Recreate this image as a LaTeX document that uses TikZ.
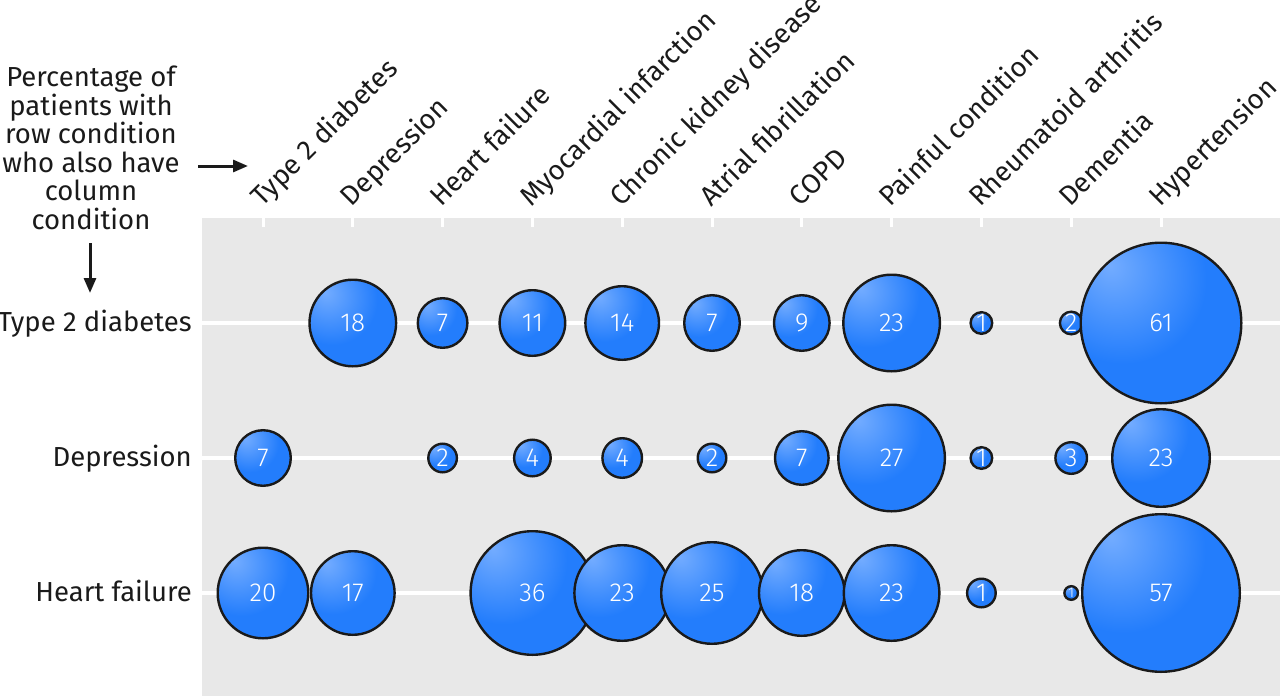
\documentclass[tikz,border=0pt]{standalone}
\usepackage{fontspec}
\setmainfont{Fira Sans}
\newfontfamily\numfont{Fira Sans Light}
\usetikzlibrary{arrows.meta}
\definecolor{panel}{HTML}{E8E8E8}
\definecolor{hl}{RGB}{115,172,255}
\definecolor{bmain}{RGB}{35,125,252}
\definecolor{bdark}{RGB}{24,108,238}
\definecolor{edge}{HTML}{1A1A1A}
\definecolor{ink}{HTML}{1A1A1A}
\pgfdeclareradialshading{ballblue}{\pgfpoint{-16bp}{18bp}}{color(0bp)=(hl); color(26bp)=(bmain); color(58bp)=(bmain); color(80bp)=(bdark); color(100bp)=(bdark)}
\begin{document}
\begin{tikzpicture}[x=1pt,y=-1pt,
  lbl/.style={font=\fontsize{27.5}{28.5}\selectfont, text=ink, inner sep=0pt},
  collbl/.style={lbl, rotate=45, anchor=base west},
  rowlbl/.style={lbl, anchor=base east},
  ball/.style={circle, draw=edge, line width=2.4pt, shading=ballblue, inner sep=0pt, text=white, font=\numfont\fontsize{26}{26}\selectfont},
  gridline/.style={white, line width=4pt},
  tickmark/.style={white, line width=3pt},
  pointer/.style={ink, line width=3pt, -{Triangle[length=15pt,width=12pt]}}
]
\useasboundingbox (0,0) rectangle (1280,696);
\fill[panel] (202,218) rectangle (1280,696);
% column ticks
\foreach \i in {1,...,11} \draw[tickmark] ({263+89.8*(\i-1)},218) -- ++(0,9);
% row grid lines
\foreach \y in {323,458,593} \draw[gridline] (202,\y) -- (1280,\y);
% intro text and pointers
\node[lbl, align=center, anchor=south] (intro) at (91,230) {Percentage of\\patients with\\row condition\\who also have\\column\\condition};
\coordinate (ra0) at (198,166);
\coordinate (ra1) at (248,166);
\draw[pointer] (ra0) -- (ra1);
\coordinate (da0) at (90,243);
\coordinate (da1) at (90,293);
\draw[pointer] (da0) -- (da1);
% column labels
\foreach \i/\t in {1/Type 2 diabetes,2/Depression,3/Heart failure,4/Myocardial infarction,5/Chronic kidney disease,6/Atrial fibrillation,7/COPD,8/Painful condition,9/Rheumatoid arthritis,10/Dementia,11/Hypertension}
  \node[collbl] (col\i) at ({263+89.8*(\i-1)-1},208) {\t};
% row labels
\node[rowlbl] (row1) at (192,331) {Type 2 diabetes};
\node[rowlbl] (row2) at (192,466) {Depression};
\node[rowlbl] (row3) at (192,601) {Heart failure};
% row 1
\foreach \c/\v/\s in {2/18/44.5,3/7/26,4/11/34,5/14/38,6/7/29,7/9/29,8/23/49.5,9/1/12,10/2/12.5,11/61/81.5}
  \node[ball, minimum size={2*\s-2.4}] (a\c) at ({263+89.8*(\c-1)},323) {\v};
% row 2
\foreach \c/\v/\s in {1/7/29,3/2/15.5,4/4/19.5,5/4/21,6/2/15.5,7/7/28,8/27/54.5,9/1/12,10/3/17,11/23/50}
  \node[ball, minimum size={2*\s-2.4}] (b\c) at ({263+89.8*(\c-1)},458) {\v};
% row 3
\foreach \c/\v/\s in {1/20/46.5,2/17/43,4/36/63,5/23/49,6/25/52,7/18/44,8/23/49,9/1/15.5}
  \node[ball, minimum size={2*\s-2.4}] (c\c) at ({263+89.8*(\c-1)},593) {\v};
\node[ball, minimum size=13.6, font=\numfont\fontsize{14}{14}\selectfont] (c10) at ({263+89.8*9},593) {1};
\node[ball, minimum size=157.6] (c11) at ({263+89.8*10},593) {57};
\end{tikzpicture}
\end{document}
